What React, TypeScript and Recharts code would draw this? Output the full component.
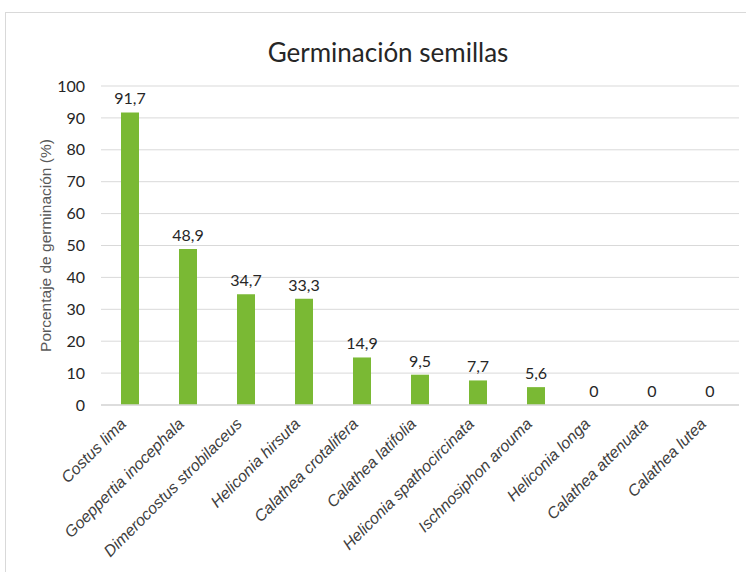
import { ComposedChart, Bar, Line, XAxis, YAxis, CartesianGrid, LabelList, Label } from "recharts";

const species = [
  "Costus lima",
  "Goeppertia inocephala",
  "Dimerocostus strobilaceus",
  "Heliconia hirsuta",
  "Calathea crotalifera",
  "Calathea latifolia",
  "Heliconia spathocircinata",
  "Ischnosiphon arouma",
  "Heliconia longa",
  "Calathea attenuata",
  "Calathea lutea",
];
const germination = [91.7, 48.9, 34.7, 33.3, 14.9, 9.5, 7.7, 5.6, 0, 0, 0];
const yTicks = [0, 10, 20, 30, 40, 50, 60, 70, 80, 90, 100];

const data = species.map((name, i) => ({ name, value: germination[i] }));

function CategoryTick(props: any) {
  const { x, y, payload } = props;
  return (
    <g transform={`translate(${x - 7},${y + 8})`}>
      <text
        x={0}
        y={0}
        dy="0.35em"
        textAnchor="end"
        transform="rotate(-45)"
        fontFamily="'Liberation Sans', Arial, sans-serif"
        fontStyle="italic"
        fontSize={16}
        fill="#404040"
      >
        {payload.value}
      </text>
    </g>
  );
}

function AxisTitle(props: any) {
  const { viewBox } = props;
  const cx = 39;
  const cy = viewBox.y + viewBox.height / 2;
  return (
    <text
      x={cx}
      y={cy}
      transform={`rotate(-90, ${cx}, ${cy})`}
      textAnchor="middle"
      dominantBaseline="central"
      fontFamily="'Liberation Sans', Arial, sans-serif"
      fontSize={15.5}
      fill="#595959"
    >
      Porcentaje de germinación (%)
    </text>
  );
}

export default function App() {
  return (
    <div style={{ position: "fixed", inset: 0, overflow: "hidden", background: "#fff" }}>
      <div
        style={{
          position: "absolute",
          left: 5,
          top: 12,
          width: 760,
          height: 580,
          border: "1px solid #d9d9d9",
          boxSizing: "border-box",
        }}
      >
        <div
          style={{
            position: "absolute",
            left: 0,
            width: 760,
            top: 23,
            textAlign: "center",
            fontFamily: "Lato, 'Open Sans', sans-serif",
            fontSize: 26,
            color: "#262626",
          }}
        >
          <span style={{ marginLeft: 4 }}>Germinación semillas</span>
        </div>
        <ComposedChart
          width={740}
          height={570}
          data={data}
          margin={{ top: 73, right: 7, bottom: 10, left: 0 }}
          style={{ position: "absolute", left: 0, top: 0 }}
        >
          <CartesianGrid vertical={false} stroke="#d9d9d9" />
          <XAxis
            dataKey="name"
            interval={0}
            tickLine={false}
            axisLine={{ stroke: "#d9d9d9", strokeWidth: 1.5 }}
            tick={<CategoryTick />}
            height={168}
          />
          <YAxis
            domain={[0, 100]}
            ticks={yTicks}
            width={95}
            axisLine={false}
            tickLine={false}
            tick={{ fill: "#262626", fontSize: 16, fontFamily: "Lato, sans-serif" }}
            tickMargin={10}
          >
            <Label content={<AxisTitle />} />
          </YAxis>
          <Bar dataKey="value" fill="#7ab934" barSize={18} isAnimationActive={false} />
          <Line
            dataKey="value"
            stroke="none"
            dot={false}
            activeDot={false}
            legendType="none"
            isAnimationActive={false}
          >
            <LabelList
              dataKey="value"
              position="top"
              offset={8}
              formatter={(v: any) => String(v).replace(".", ",")}
              fill="#262626"
              fontSize={16}
              fontFamily="Lato, sans-serif"
            />
          </Line>
        </ComposedChart>
      </div>
    </div>
  );
}
